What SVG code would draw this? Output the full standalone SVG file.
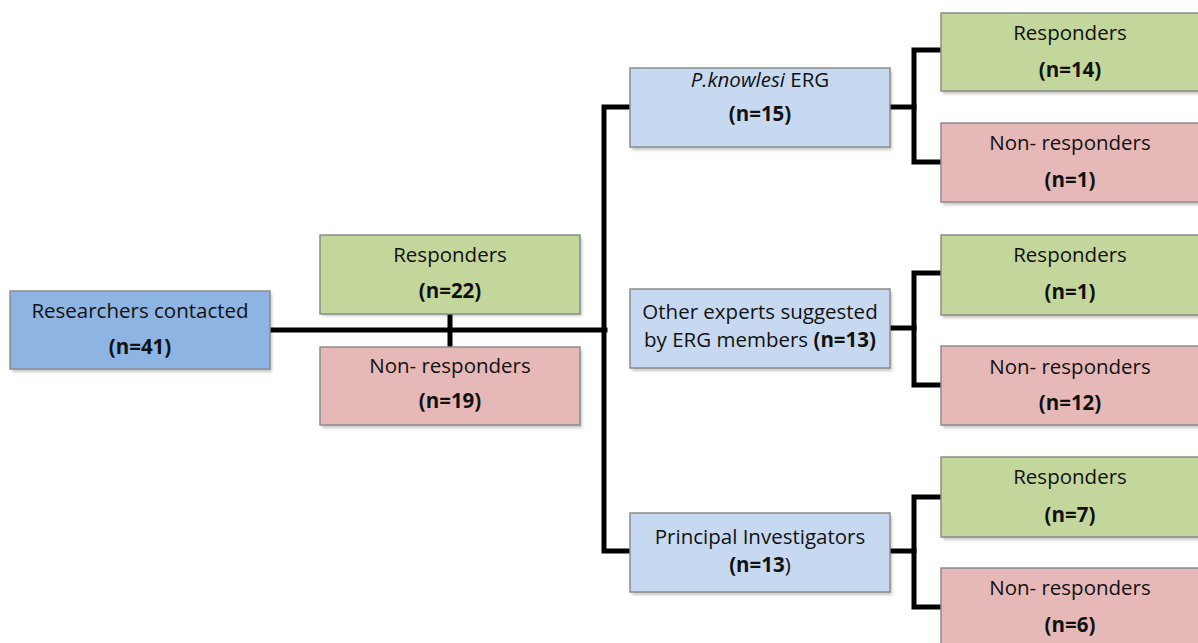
<svg xmlns="http://www.w3.org/2000/svg" width="1198" height="643" viewBox="0 0 1198 643">
<style>
.box{stroke:#8c8c8c;stroke-width:1.5}
.sh{fill:#000;opacity:0.22}
.blue{fill:#8DB4E2}
.lblue{fill:#C6D9F1}
.green{fill:#C3D69B}
.red{fill:#E6B9B8}
text{font-family:"Open Sans","Liberation Sans",Arial,sans-serif;font-size:20.5px;fill:#111;text-anchor:middle}
.b{font-weight:bold}
.conn{stroke:#000;stroke-width:5;fill:none;stroke-linejoin:miter;stroke-linecap:square}
</style>
<defs>
<filter id="blur" x="-10%" y="-10%" width="120%" height="130%"><feGaussianBlur stdDeviation="1.5"/></filter>
</defs>
<rect width="1198" height="643" fill="#fff"/>
<g id="connectors">
<path class="conn" d="M270 330 H605"/>
<path class="conn" d="M450 314 V347"/>
<path class="conn" d="M630 107 H604 V551 H630"/>
<path class="conn" d="M890 107 H914"/>
<path class="conn" d="M941 50 H914 V162 H941"/>
<path class="conn" d="M890 328 H914"/>
<path class="conn" d="M941 273 H914 V385 H941"/>
<path class="conn" d="M890 551 H914"/>
<path class="conn" d="M941 497 H914 V607 H941"/>
</g>
<g id="researchers">
<rect class="sh" x="12" y="294" width="260" height="78" filter="url(#blur)"/>
<rect class="box blue" x="10" y="291" width="260" height="78"/>
<text x="140" y="318">Researchers contacted</text>
<text x="140" y="354" class="b">(n=41)</text>
</g>
<g id="responders22">
<rect class="sh" x="322" y="238" width="260" height="78" filter="url(#blur)"/>
<rect class="box green" x="320" y="235" width="260" height="79"/>
<text x="450" y="262">Responders</text>
<text x="450" y="298" class="b">(n=22)</text>
</g>
<g id="nonresponders19">
<rect class="sh" x="322" y="350" width="260" height="78" filter="url(#blur)"/>
<rect class="box red" x="320" y="347" width="260" height="78"/>
<text x="450" y="373">Non- responders</text>
<text x="450" y="408" class="b">(n=19)</text>
</g>
<g id="pknowlesi">
<rect class="sh" x="632" y="71" width="260" height="79" filter="url(#blur)"/>
<rect class="box lblue" x="630" y="68" width="260" height="79"/>
<text x="760" y="87"><tspan font-style="italic">P.knowlesi</tspan> ERG</text>
<text x="760" y="121" class="b">(n=15)</text>
</g>
<g id="otherexperts">
<rect class="sh" x="632" y="292" width="260" height="79" filter="url(#blur)"/>
<rect class="box lblue" x="630" y="289" width="260" height="79"/>
<text x="760" y="319">Other experts suggested</text>
<text x="760" y="347">by ERG members <tspan class="b">(n=13)</tspan></text>
</g>
<g id="principal">
<rect class="sh" x="632" y="516" width="260" height="79" filter="url(#blur)"/>
<rect class="box lblue" x="630" y="513" width="260" height="79"/>
<text x="760" y="544">Principal Investigators</text>
<text x="760" y="572"><tspan class="b">(n=13</tspan>)</text>
</g>
<g id="resp14">
<rect class="sh" x="943" y="16" width="260" height="78" filter="url(#blur)"/>
<rect class="box green" x="941" y="13" width="260" height="78"/>
<text x="1070" y="40">Responders</text>
<text x="1070" y="77" class="b">(n=14)</text>
</g>
<g id="non1">
<rect class="sh" x="943" y="126" width="260" height="79" filter="url(#blur)"/>
<rect class="box red" x="941" y="123" width="260" height="79"/>
<text x="1070" y="150">Non- responders</text>
<text x="1070" y="187" class="b">(n=1)</text>
</g>
<g id="resp1">
<rect class="sh" x="943" y="238" width="260" height="80" filter="url(#blur)"/>
<rect class="box green" x="941" y="235" width="260" height="80"/>
<text x="1070" y="262">Responders</text>
<text x="1070" y="299" class="b">(n=1)</text>
</g>
<g id="non12">
<rect class="sh" x="943" y="349" width="260" height="79" filter="url(#blur)"/>
<rect class="box red" x="941" y="346" width="260" height="79"/>
<text x="1070" y="374">Non- responders</text>
<text x="1070" y="410" class="b">(n=12)</text>
</g>
<g id="resp7">
<rect class="sh" x="943" y="460" width="260" height="80" filter="url(#blur)"/>
<rect class="box green" x="941" y="457" width="260" height="80"/>
<text x="1070" y="484">Responders</text>
<text x="1070" y="522" class="b">(n=7)</text>
</g>
<g id="non6">
<rect class="sh" x="943" y="571" width="260" height="80" filter="url(#blur)"/>
<rect class="box red" x="941" y="568" width="260" height="80"/>
<text x="1070" y="595">Non- responders</text>
<text x="1070" y="632" class="b">(n=6)</text>
</g>
</svg>
